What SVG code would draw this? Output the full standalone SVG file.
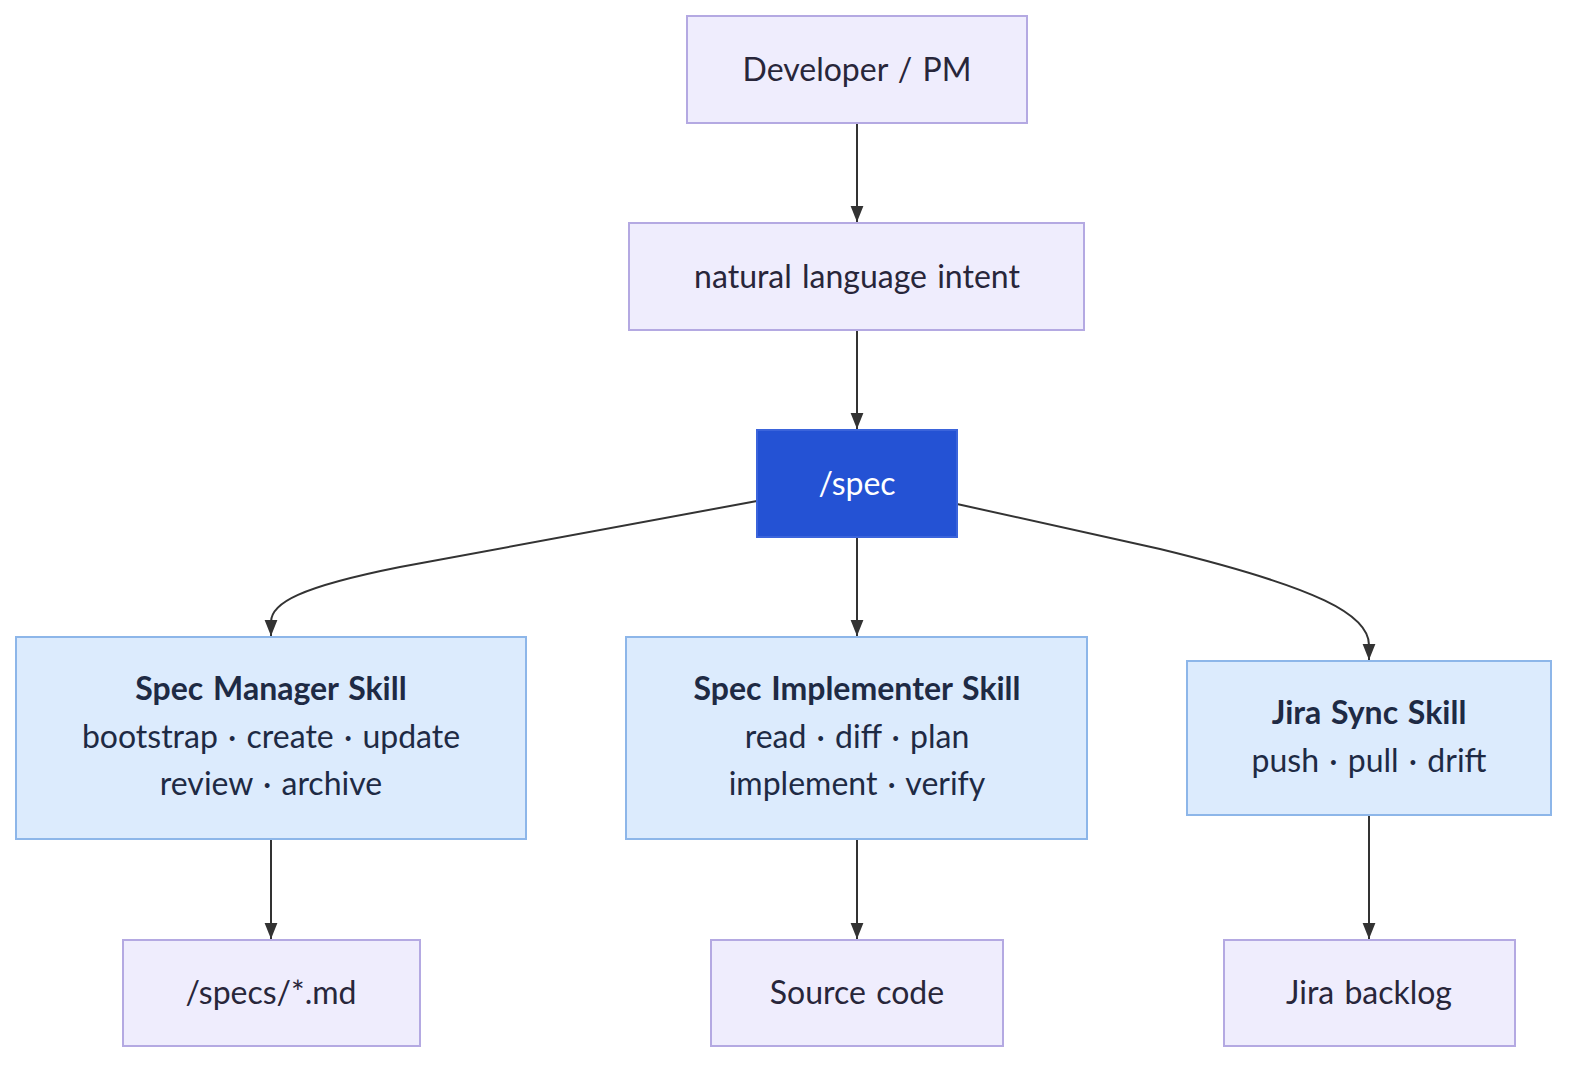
<svg xmlns="http://www.w3.org/2000/svg" width="1574" height="1067" viewBox="0 0 1574 1067">
<defs>
<style>
.n rect{fill:#EFEDFD;stroke:#B4A9E2;stroke-width:2}
.s rect{fill:#DCEBFD;stroke:#8DB6E9;stroke-width:2}
.b rect{fill:#2452D4;stroke:#3B64DB;stroke-width:2}
text{font-family:"Lato","Liberation Sans",sans-serif;font-size:32px;text-anchor:middle;word-spacing:2px}
.n text{fill:#28263A}
.s text{fill:#1E2A44}
.s text.t{font-weight:bold}
.b text{fill:#FFFFFF}
.e path{fill:none;stroke:#333333;stroke-width:2}
</style>
<marker id="arr" viewBox="0 0 10 10" refX="10" refY="5" markerWidth="16" markerHeight="16" markerUnits="userSpaceOnUse" orient="auto">
<path d="M0,1 L10,5 L0,9 z" fill="#333333"/>
</marker>
</defs>
<rect width="1574" height="1067" fill="#FFFFFF"/>
<g id="edges" class="e">
<path d="M857,124 L857,222" marker-end="url(#arr)"/>
<path d="M857,331 L857,429" marker-end="url(#arr)"/>
<path d="M857,538 L857,636" marker-end="url(#arr)"/>
<path d="M757,501 L400,567 C300,587 271,603 271,622 L271,636" marker-end="url(#arr)"/>
<path d="M957,504 L1160,549 C1320,588 1369,615 1369,645 L1369,660" marker-end="url(#arr)"/>
<path d="M271,840 L271,939" marker-end="url(#arr)"/>
<path d="M857,840 L857,939" marker-end="url(#arr)"/>
<path d="M1369,816 L1369,939" marker-end="url(#arr)"/>
</g>
<g id="dev" class="n"><rect x="687" y="16" width="340" height="107"/><text x="857" y="81">Developer / PM</text></g>
<g id="intent" class="n"><rect x="629" y="223" width="455" height="107"/><text x="857" y="288">natural language intent</text></g>
<g id="spec" class="b"><rect x="757" y="430" width="200" height="107"/><text x="857" y="495">/spec</text></g>
<g id="manager" class="s"><rect x="16" y="637" width="510" height="202"/><text class="t" x="271" y="700">Spec Manager Skill</text><text x="271" y="748">bootstrap · create · update</text><text x="271" y="795">review · archive</text></g>
<g id="implementer" class="s"><rect x="626" y="637" width="461" height="202"/><text class="t" x="857" y="700">Spec Implementer Skill</text><text x="857" y="748">read · diff · plan</text><text x="857" y="795">implement · verify</text></g>
<g id="jira" class="s"><rect x="1187" y="661" width="364" height="154"/><text class="t" x="1369" y="724">Jira Sync Skill</text><text x="1369" y="772">push · pull · drift</text></g>
<g id="specs" class="n"><rect x="123" y="940" width="297" height="106"/><text x="271" y="1004">/specs/*.md</text></g>
<g id="source" class="n"><rect x="711" y="940" width="292" height="106"/><text x="857" y="1004">Source code</text></g>
<g id="backlog" class="n"><rect x="1224" y="940" width="291" height="106"/><text x="1369" y="1004">Jira backlog</text></g>
</svg>
